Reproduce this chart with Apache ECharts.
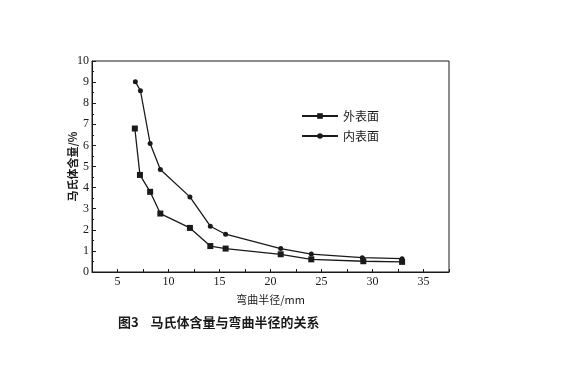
<!DOCTYPE html>
<html style="height: 100%">
<head>
  <meta charset="utf-8">
  <title>马氏体含量与弯曲半径的关系</title>
</head>
<body style="height: 100%; margin: 0; background: #fff">
  <div id="container" style="width: 580px; height: 375px"></div>
  <script type="text/javascript" src="https://cdn.jsdelivr.net/npm/echarts@6/dist/echarts.min.js"></script>
  <script type="text/javascript">
    // bending radius (mm) and martensite content (%)
    var outerRadius = [6.7, 7.2, 8.2, 9.2, 12.1, 14.1, 15.6, 21.0, 24.0, 29.1, 32.9];
    var outerValue = [6.8, 4.6, 3.8, 2.77, 2.09, 1.23, 1.11, 0.84, 0.6, 0.51, 0.48];
    var innerRadius = [6.75, 7.25, 8.2, 9.2, 12.1, 14.1, 15.6, 21.0, 24.0, 29.0, 32.9];
    var innerValue = [9.02, 8.59, 6.09, 4.86, 3.56, 2.17, 1.79, 1.11, 0.85, 0.68, 0.63];
    var seriesNames = ['外表面', '内表面'];

    function pairs(xs, ys) {
      return xs.map(function (x, i) { return [x, ys[i]]; });
    }

    var dom = document.getElementById('container');
    var myChart = echarts.init(dom);
    var numFont = 'Liberation Serif';
    var cjkFont = 'Noto Sans CJK SC';
    var ink = '#1a1a1a';

    var option = {
      animation: false,
      backgroundColor: '#fff',
      grid: {
        left: 92, right: 131, top: 61, bottom: 103,
        show: true, borderColor: ink, borderWidth: 1
      },
      legend: {
        orient: 'vertical',
        left: 296, top: 105,
        itemWidth: 36, itemHeight: 7, itemGap: 8,
        textStyle: { fontFamily: cjkFont, fontSize: 12, color: ink },
        data: seriesNames
      },
      title: {
        text: '图3    马氏体含量与弯曲半径的关系',
        left: 113, top: 311,
        textStyle: { fontFamily: cjkFont, fontSize: 13, fontWeight: 'bold', color: ink }
      },
      xAxis: {
        type: 'value',
        min: 2.5, max: 37.5, interval: 2.5,
        name: '弯曲半径/mm',
        nameLocation: 'middle',
        nameGap: 22,
        nameTextStyle: { fontFamily: cjkFont, fontSize: 11, color: ink },
        axisLine: { lineStyle: { color: ink, width: 1 } },
        axisTick: { inside: true, length: 3, lineStyle: { color: ink } },
        axisLabel: {
          fontFamily: numFont, fontSize: 12, color: ink, margin: 4,
          formatter: function (v) { return v % 5 === 0 ? String(v) : ''; }
        },
        splitLine: { show: false }
      },
      yAxis: {
        type: 'value',
        min: 0, max: 10, interval: 1,
        name: '马氏体含量/%',
        nameLocation: 'middle',
        nameGap: 14,
        nameMoveOverlap: false,
        nameRotate: 90,
        nameTextStyle: { fontFamily: cjkFont, fontSize: 11, fontWeight: 'bold', color: ink },
        axisLine: { lineStyle: { color: ink, width: 1 } },
        axisTick: { inside: true, length: 4, lineStyle: { color: ink } },
        minorTick: { show: true, splitNumber: 2, length: 2, lineStyle: { color: ink } },
        axisLabel: { fontFamily: numFont, fontSize: 12, color: ink, margin: 3 },
        splitLine: { show: false }
      },
      series: [{
        name: seriesNames[0],
        type: 'line',
        data: pairs(outerRadius, outerValue),
        symbol: 'rect',
        symbolSize: 6,
        lineStyle: { color: ink, width: 1.3 },
        itemStyle: { color: ink }
      }, {
        name: seriesNames[1],
        type: 'line',
        data: pairs(innerRadius, innerValue),
        symbol: 'circle',
        symbolSize: 5,
        lineStyle: { color: ink, width: 1.3 },
        itemStyle: { color: ink }
      }]
    };
    myChart.setOption(option, true);
  </script>
</body>
</html>
